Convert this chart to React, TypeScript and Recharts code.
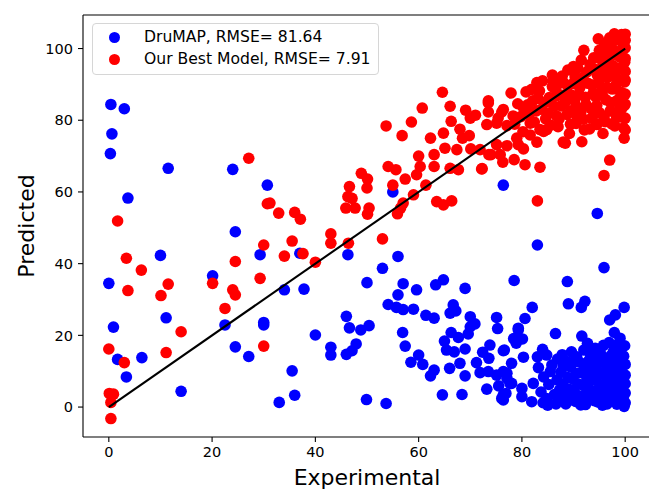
import { ScatterChart, Scatter, XAxis, YAxis, ReferenceLine, Legend, Label } from 'recharts'

const FONT = '"DejaVu Sans", sans-serif'

const xTicks = [0, 20, 40, 60, 80, 100]
const yTicks = [0, 20, 40, 60, 80, 100]
const xDomain = [-5, 105]
const yDomain = [-8.35, 109.35]

const seriesNames = ['DruMAP, RMSE= 81.64', 'Our Best Model, RMSE= 7.91']
const seriesColors = ['#0000ff', '#ff0000']

// DruMAP predictions (experimental, predicted)
const drumap: [number, number][] = [
  [0.4, 84.4], [3.0, 83.2], [0.6, 76.2], [0.3, 70.7], [11.5, 66.6], [24.0, 66.3], [30.7, 61.9], [3.7, 58.3],
  [24.5, 48.9], [10.0, 42.3], [29.3, 42.5], [20.1, 36.6], [0.0, 34.5], [37.0, 42.9], [34.0, 32.7], [37.8, 32.9],
  [0.9, 22.3], [11.1, 24.9], [22.5, 22.9], [30.0, 23.6], [30.0, 22.9], [40.0, 20.1], [1.7, 13.3], [6.4, 13.8],
  [24.5, 16.8], [27.1, 14.1], [3.4, 8.4], [14.0, 4.4], [35.5, 10.1], [33.0, 1.3], [36.0, 3.3],
  [46.3, 42.5], [56.0, 42.0], [53.0, 38.7], [50.0, 34.7], [57.0, 34.4], [59.6, 32.7], [56.0, 31.3], [63.3, 34.1],
  [64.8, 35.5], [69.0, 33.1], [55.0, 60.0], [54.1, 28.6], [55.7, 27.8], [57.0, 27.2], [59.0, 27.3], [66.7, 28.5],
  [46.0, 25.3], [61.4, 25.6], [63.0, 24.8], [66.1, 26.2], [67.2, 26.8], [70.0, 25.2], [70.9, 23.2], [70.0, 22.4],
  [75.1, 25.0], [75.3, 21.9], [46.6, 22.1], [48.8, 21.5], [50.4, 22.7], [56.9, 20.8], [66.3, 20.8], [67.7, 19.4],
  [65.0, 18.4], [65.4, 15.9], [66.9, 15.4], [69.6, 20.4], [69.0, 16.2], [43.0, 16.7], [43.0, 14.5], [47.9, 17.6],
  [47.1, 15.7], [46.0, 14.7], [57.4, 17.0], [60.0, 14.5], [58.5, 12.5], [60.8, 11.9], [63.0, 10.3], [62.3, 8.7],
  [66.0, 10.8], [68.0, 12.2], [69.0, 8.7], [71.2, 12.4], [72.4, 15.3], [73.8, 17.3], [76.4, 15.7], [73.6, 13.6],
  [71.9, 9.6], [73.5, 9.9], [75.1, 8.9], [76.4, 9.9], [77.1, 8.0], [78.0, 6.6], [73.2, 5.0], [75.5, 5.9],
  [76.9, 3.8], [76.1, 2.4], [78.4, 19.1], [79.3, 21.5], [64.6, 3.4], [68.4, 3.5], [49.9, 2.1], [53.7, 1.0],
  [78.5, 35.3], [88.8, 35.0], [95.9, 38.9], [94.6, 54.0], [76.4, 61.9], [83.0, 45.2], [82.0, 27.8], [80.6, 24.7],
  [79.3, 22.0], [80.1, 19.0], [78.9, 17.8], [76.6, 15.9], [89.0, 28.8], [92.2, 29.5], [91.5, 27.8], [99.8, 27.8],
  [98.1, 25.7], [97.0, 24.3], [86.5, 20.5], [91.6, 19.8], [92.7, 17.8], [97.9, 20.8], [99.0, 19.2], [96.9, 18.0],
  [84.0, 16.1], [84.8, 14.5], [83.0, 14.0], [80.3, 13.9], [78.0, 12.2], [85.8, 11.7], [85.5, 9.9], [77.1, 9.4],
  [77.7, 6.6], [76.4, 3.4], [76.4, 2.0], [80.0, 5.2], [80.0, 2.9], [82.2, 6.6], [81.9, 1.5], [84.8, 2.4],
  [88.7, 12.7], [90.6, 14.0], [93.2, 15.0], [95.2, 15.0], [97.7, 15.4], [99.0, 15.9],
  [87.6, 9.8], [87.9, 6.3], [88.2, 3.1], [88.5, 0.9], [89.4, 11.2], [89.8, 7.9], [90.1, 4.6], [90.4, 1.6],
  [91.2, 12.5], [91.5, 9.6], [91.7, 6.2], [92.0, 3.3], [92.3, 0.7], [93.0, 13.0], [93.3, 10.4], [93.5, 7.5],
  [93.8, 4.4], [94.0, 1.8], [94.6, 12.1], [94.9, 9.2], [95.1, 6.1], [95.3, 3.0], [95.6, 0.5], [96.2, 13.4],
  [96.4, 10.6], [96.6, 7.7], [96.8, 4.8], [97.0, 2.0], [97.6, 12.0], [97.8, 9.1], [98.0, 6.4], [98.2, 3.6],
  [98.4, 0.8], [98.9, 13.3], [99.1, 10.5], [99.3, 7.8], [99.5, 5.1], [99.6, 2.3], [99.8, 0.2], [100.0, 11.9],
  [100.0, 8.9], [100.0, 3.9], [99.9, 17.1], [98.6, 17.5], [95.8, 17.2], [94.2, 16.4],
  [83.7, 4.2], [85.2, 6.3], [86.3, 3.5], [86.6, 0.9], [84.2, 8.4], [86.9, 13.4], [83.2, 11.0],
  [88.0, 11.5], [88.9, 8.2], [89.1, 5.0], [89.3, 2.0], [90.0, 12.6], [90.5, 9.4], [90.8, 6.5], [91.1, 3.1],
  [91.4, 0.6], [92.4, 11.1], [92.6, 8.2], [92.9, 5.2], [93.1, 2.4], [93.9, 14.2], [94.3, 11.0], [94.4, 7.9],
  [94.6, 4.7], [94.8, 1.4], [95.7, 12.6], [95.9, 9.5], [96.0, 6.5], [96.2, 3.4], [96.5, 0.9], [97.2, 14.3],
  [97.3, 11.2], [97.4, 8.3], [97.5, 5.2], [97.7, 2.5], [98.5, 12.2], [98.7, 9.7], [98.8, 6.8], [99.0, 4.1],
  [99.2, 1.3], [99.7, 14.2], [100.0, 6.5], [100.0, 1.2], [86.8, 7.6], [87.3, 4.8], [87.0, 1.9], [85.0, 0.5],
  [84.1, 1.2], [87.8, 14.6], [89.6, 15.4], [92.0, 15.9],
]

// our best model predictions
const bestModel: [number, number][] = [
  [27.1, 69.4], [30.7, 56.7], [32.9, 54.1], [1.7, 51.9], [30.0, 45.2], [3.4, 41.5], [24.5, 40.6], [6.3, 38.2],
  [29.3, 35.9], [35.5, 46.3], [34.0, 42.1], [37.6, 42.8], [40.0, 40.4], [3.7, 32.5], [11.5, 34.3], [10.1, 31.1],
  [20.1, 34.5], [24.0, 32.7], [24.5, 31.3], [22.5, 27.5], [14.0, 21.0], [0.0, 16.2], [11.1, 15.2], [30.0, 17.0],
  [3.0, 12.4], [0.1, 3.8], [0.9, 3.6], [0.4, 1.3], [0.4, -3.2],
  [36.0, 54.3], [37.1, 52.4], [43.0, 48.3], [43.0, 45.7], [46.4, 45.7], [53.0, 46.9],
  [64.6, 87.8], [60.7, 83.4], [66.1, 83.9], [53.7, 78.4], [58.6, 79.5], [56.8, 75.7], [62.3, 75.0], [64.8, 76.4],
  [66.3, 79.7], [69.1, 82.8], [71.0, 81.4], [68.0, 77.5], [69.8, 75.7], [68.5, 75.0], [65.1, 72.2], [67.4, 71.8],
  [70.1, 72.0], [71.9, 71.8], [60.0, 70.0], [63.0, 70.4], [73.6, 70.4], [60.3, 67.1], [63.0, 67.1], [66.1, 66.6],
  [67.7, 66.2], [72.3, 66.5], [54.1, 67.1], [55.6, 66.2], [48.9, 65.2], [50.1, 63.6], [57.4, 63.6], [59.6, 64.8],
  [46.6, 61.5], [50.0, 61.1], [55.0, 61.9], [61.4, 61.9], [59.0, 59.2], [57.0, 56.9], [56.5, 55.5], [55.9, 53.9],
  [63.5, 57.3], [64.8, 56.4], [66.4, 57.5], [46.3, 58.7], [47.1, 58.2], [45.9, 55.5], [47.7, 55.5], [50.4, 55.5],
  [50.1, 53.8], [31.2, 56.9], [73.5, 84.8], [73.2, 78.8], [70.0, 80.6],
  [83.0, 57.5], [95.9, 64.6], [97.0, 68.9], [99.8, 75.0], [88.0, 73.9], [91.6, 74.0], [95.7, 76.3], [97.4, 79.0],
  [94.5, 79.0], [83.5, 66.9], [80.6, 67.6], [78.5, 69.0], [76.3, 68.3], [72.2, 66.4], [74.0, 70.4], [75.8, 70.4],
  [80.3, 72.0], [79.3, 73.2], [77.1, 72.9], [75.1, 73.2], [82.9, 73.9], [84.2, 76.9], [75.1, 79.2], [77.1, 78.5],
  [73.5, 82.3], [76.1, 82.3], [77.9, 87.6], [82.9, 90.5], [86.1, 91.0], [90.0, 95.0], [73.5, 85.4], [76.4, 83.0],
  [75.4, 80.6], [78.3, 81.2], [80.3, 83.5], [81.6, 79.2], [84.8, 77.4], [86.7, 81.2], [88.7, 81.6], [90.6, 81.2],
  [94.5, 78.8], [98.8, 82.8], [88.4, 73.6], [79.0, 75.0], [81.6, 75.9], [83.5, 77.4], [99.3, 103.9], [94.8, 102.7],
  [79.2, 84.6], [80.8, 87.9], [81.4, 81.8], [82.1, 85.4], [83.4, 88.2], [83.8, 83.1], [84.6, 80.4], [85.3, 86.3],
  [85.9, 89.4], [86.2, 83.9], [87.0, 78.2], [87.4, 87.1], [87.8, 92.3], [88.3, 84.8], [88.9, 89.6], [89.4, 78.9],
  [89.8, 86.9], [90.3, 92.1], [90.6, 83.7], [91.2, 89.1], [91.5, 96.8], [91.9, 80.3], [92.3, 86.4], [92.6, 93.5],
  [93.1, 77.6], [93.4, 83.2], [93.6, 89.8], [93.9, 97.4], [94.3, 86.5], [94.6, 92.6], [95.0, 82.1], [95.2, 99.4],
  [95.5, 89.0], [95.8, 95.3], [96.1, 79.6], [96.3, 85.7], [96.6, 92.0], [96.8, 98.6], [97.1, 82.6], [97.3, 101.2],
  [97.5, 88.7], [97.7, 95.1], [98.0, 78.4], [98.2, 85.3], [98.4, 91.7], [98.6, 98.0], [98.8, 102.4], [99.0, 80.9],
  [99.2, 87.8], [99.4, 94.6], [99.6, 100.6], [99.7, 77.9], [99.8, 84.1], [99.9, 90.7], [100.0, 97.2], [100.0, 104.0],
  [100.0, 87.3], [100.0, 93.6], [100.0, 80.6], [100.0, 100.2], [97.9, 104.1], [92.0, 99.5],
  [78.6, 78.9], [79.8, 81.0], [80.2, 76.8], [81.1, 84.3], [81.9, 88.6], [82.4, 79.5], [82.8, 82.6], [83.1, 86.1],
  [84.0, 91.0], [84.4, 85.0], [85.0, 82.0], [85.6, 78.6], [85.9, 92.6], [86.5, 86.7], [86.8, 89.8], [87.2, 80.4],
  [87.6, 84.0], [88.1, 90.4], [88.6, 87.2], [88.9, 94.0], [89.2, 76.3], [89.5, 82.6], [89.9, 90.2], [90.2, 85.4],
  [90.5, 79.1], [90.8, 94.6], [91.1, 87.1], [91.4, 82.2], [91.8, 91.9], [92.1, 77.3], [92.4, 84.4], [92.8, 90.3],
  [93.2, 95.5], [93.5, 80.6], [93.8, 87.6], [94.2, 94.2], [94.5, 84.1], [94.9, 90.6], [95.2, 97.1], [95.6, 86.9],
  [95.9, 81.0], [96.2, 94.0], [96.5, 89.2], [96.9, 96.3], [97.2, 84.9], [97.4, 92.4], [97.8, 99.5], [98.1, 89.6],
  [98.3, 81.2], [98.6, 94.4], [98.9, 86.1], [99.1, 97.5], [99.3, 83.2], [99.5, 91.0], [99.7, 102.0], [99.9, 96.2],
  [100.0, 91.2], [100.0, 84.5], [100.0, 77.3], [100.0, 102.3], [96.0, 101.3], [97.0, 103.0], [95.0, 99.5],
]

// y = x reference
const identity: [number, number][] = [[0, 0], [100, 100]]

const toPoints = (arr: [number, number][]) => arr.map(([x, y]) => ({ x, y }))

const dot = (color: string) => (props: any) => (
  <circle cx={props.cx} cy={props.cy} r={5.8} fill={color} />
)

const tickStyle = { fill: '#000', fontSize: 14.5, fontFamily: FONT }

function LegendBox() {
  return (
    <div
      style={{
        width: 287,
        height: 52,
        boxSizing: 'border-box',
        border: '1px solid #d6d6d6',
        borderRadius: 4,
        background: 'rgba(255,255,255,0.8)',
        paddingTop: 2,
        fontFamily: FONT,
        fontSize: 15.6,
        color: '#000',
      }}
    >
      {seriesNames.map((name, i) => (
        <div key={name} style={{ display: 'flex', alignItems: 'center', height: 22 }}>
          <span
            style={{
              display: 'inline-block',
              width: 11,
              height: 11,
              borderRadius: '50%',
              background: seriesColors[i],
              marginLeft: 15.5,
              marginRight: 24.5,
            }}
          />
          <span style={{ whiteSpace: 'nowrap' }}>{name}</span>
        </div>
      ))}
    </div>
  )
}

export default function App() {
  return (
    <div style={{ position: 'absolute', left: 0, top: 0, width: 649, height: 491, overflow: 'hidden', background: '#fff' }}>
      <ScatterChart width={660} height={491} margin={{ top: 15, right: 9, bottom: 0, left: 0 }}>
        <XAxis
          type="number"
          dataKey="x"
          domain={xDomain}
          ticks={xTicks}
          height={54}
          tickSize={5}
          tickMargin={5}
          tick={tickStyle}
          axisLine={{ stroke: '#000', strokeWidth: 1.1 }}
          tickLine={{ stroke: '#000', strokeWidth: 1.1 }}
          allowDataOverflow
        >
          <Label
            content={() => (
              <text x={367} y={485} textAnchor="middle" fontSize={22} fontFamily={FONT} fill="#000">
                Experimental
              </text>
            )}
          />
        </XAxis>
        <YAxis
          type="number"
          dataKey="y"
          domain={yDomain}
          ticks={yTicks}
          width={83}
          tickSize={5}
          tickMargin={5}
          tick={tickStyle}
          axisLine={{ stroke: '#000', strokeWidth: 1.1 }}
          tickLine={{ stroke: '#000', strokeWidth: 1.1 }}
          allowDataOverflow
        >
          <Label
            content={() => (
              <text
                x={34}
                y={226}
                transform="rotate(-90 34 226)"
                textAnchor="middle"
                fontSize={22}
                fontFamily={FONT}
                fill="#000"
              >
                Predicted
              </text>
            )}
          />
        </YAxis>
        <ReferenceLine y={yDomain[1]} stroke="#000" strokeWidth={1.1} />
        <ReferenceLine x={xDomain[1]} stroke="#000" strokeWidth={1.1} />
        <Scatter
          name={seriesNames[0]}
          data={toPoints(drumap)}
          fill={seriesColors[0]}
          shape={dot(seriesColors[0])}
          isAnimationActive={false}
        />
        <Scatter
          name={seriesNames[1]}
          data={toPoints(bestModel)}
          fill={seriesColors[1]}
          shape={dot(seriesColors[1])}
          isAnimationActive={false}
        />
        <Scatter
          data={toPoints(identity)}
          line={{ stroke: '#000', strokeWidth: 2.1 }}
          shape={() => <g />}
          legendType="none"
          isAnimationActive={false}
        />
        <Legend
          content={LegendBox}
          layout="vertical"
          align="center"
          verticalAlign="middle"
          wrapperStyle={{ left: 92, top: 23, width: 287, height: 52 }}
        />
      </ScatterChart>
    </div>
  )
}
